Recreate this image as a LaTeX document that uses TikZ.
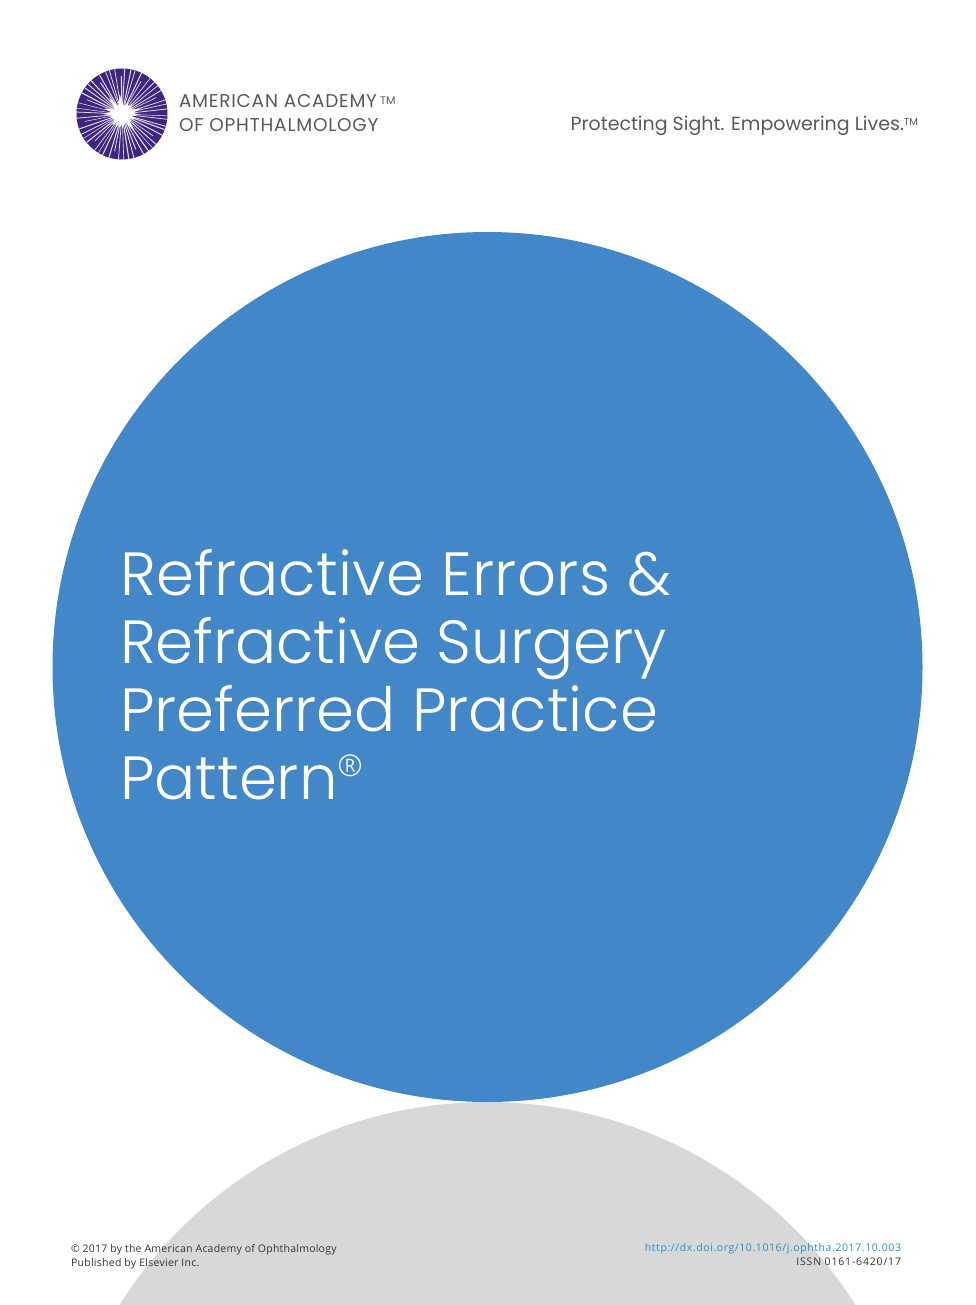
\documentclass[tikz,border=0pt]{standalone}
\usepackage{fontspec}
\usetikzlibrary{calc}
\setmainfont{Open Sans}
\newfontfamily\titlefont{Poppins Light}
\newfontfamily\headfont{Poppins}
\newfontfamily\footfont{Open Sans}
\newfontfamily\regfont{Open Sans Light}
\definecolor{pppblue}{HTML}{4287C8}
\definecolor{pppgray}{HTML}{D7D8DA}
\definecolor{logopurple}{HTML}{3F2580}
\definecolor{logotext}{HTML}{58595B}
\definecolor{linkblue}{HTML}{2E8DBB}
\definecolor{foottext}{HTML}{333333}
\newcommand{\track}[1]{\addfontfeature{LetterSpace=#1}}
\tikzset{
  x=1pt,y=-1pt,
  txt/.style={inner sep=0pt,outer sep=0pt},
  titleline/.style={txt,anchor=base west,text=white,font=\titlefont\fontsize{61}{61}\selectfont},
  logoline/.style={txt,anchor=base west,text=logotext,font=\headfont\fontsize{18.5}{18.5}\selectfont\track{4.3}},
  footline/.style={txt,text=foottext},
  ray/.style={draw=white!85!logopurple,line width=#1},
}
\newcommand{\footsize}[1]{\footfont\fontsize{10.5}{10.5}\selectfont\track{#1}}
\begin{document}
\begin{tikzpicture}
\useasboundingbox (0,0) rectangle (975,1305);
\begin{scope}
  \clip (0,0) rectangle (975,1305);
  \fill[pppgray] (487.5,1537) circle[radius=435];
\end{scope}
\fill[pppblue] (487.5,667) circle[radius=435];
% logo
\coordinate (lc) at (122,114);
\fill[logopurple] (lc) circle[radius=45.5];
\begin{scope}
  \clip (lc) circle[radius=45.5];
  \pgfmathsetseed{23}
  \foreach \i in {1,...,54}{
    \pgfmathsetmacro{\ang}{\i*6.667+rnd*2.5}
    \pgfmathsetmacro{\w}{0.5+rnd*0.6}
    \pgfmathsetmacro{\len}{ifthenelse(mod(\i,5)==0,38,50)}
    \draw[ray=\w pt] (lc) -- ++(\ang:\len);
  }
  \foreach \i in {1,...,22}{
    \pgfmathsetmacro{\ang}{\i*16.36+rnd*6}
    \pgfmathsetmacro{\len}{9+rnd*12}
    \fill[white] ($(lc)+(\ang-28:6)$) -- ($(lc)+(\ang:\len)$) -- ($(lc)+(\ang+28:6)$) -- cycle;
  }
  \fill[white] (lc) circle[radius=7];
\end{scope}
\node[logoline] (acad1) at (179,108) {AMERICAN ACADEMY\,\raisebox{3.5pt}{\fontsize{11}{11}\selectfont\addfontfeature{LetterSpace=0}TM}};
\node[logoline] (acad2) at (179,132) {OF OPHTHALMOLOGY};
\node[txt,anchor=base east,text=logotext,font=\headfont\fontsize{19}{19}\selectfont] (motto) at (918,131) {Protecting Sight. Empowering Lives.\raisebox{5pt}{\fontsize{10}{10}\selectfont TM}};
% title
\node[titleline,font=\titlefont\fontsize{61}{61}\selectfont\track{0.55}] (t1) at (120,595) {Refractive Errors \&};
\node[titleline,font=\titlefont\fontsize{61}{61}\selectfont\track{-0.18}] (t2) at (120,663) {Refractive Surgery};
\node[titleline] (t3) at (120,731) {Preferred Practice};
\node[titleline] (t4) at (120,799) {Pattern\raisebox{23pt}{\regfont\fontsize{30}{30}\selectfont ®}};
% footer
\node[footline,anchor=base west,font=\footsize{2.2}] (f1) at (71,1252) {© 2017 by the American Academy of Ophthalmology};
\node[footline,anchor=base west,font=\footsize{2.6}] (f2) at (71,1266) {Published by Elsevier Inc.};
\node[footline,anchor=base east,text=linkblue,font=\footsize{5.6}] (f3) at (901,1251) {http://dx.doi.org/10.1016/j.ophtha.2017.10.003};
\node[footline,anchor=base east,font=\footsize{7.8}] (f4) at (901,1265) {ISSN 0161-6420/17};
\end{tikzpicture}
\end{document}
